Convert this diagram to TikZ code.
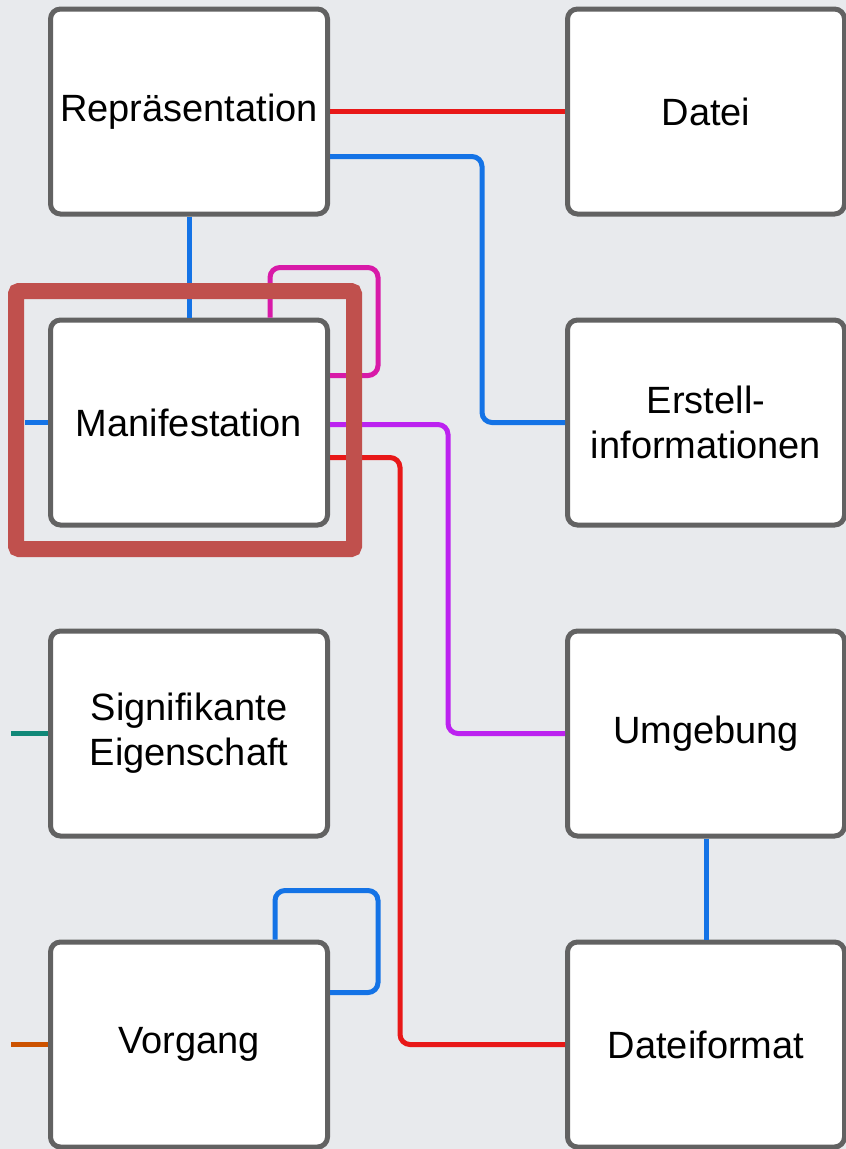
\documentclass[tikz,border=0pt]{standalone}
\usepackage{fontspec}
\setmainfont{Liberation Sans}
\usetikzlibrary{calc}
\definecolor{bggray}{RGB}{232,234,237}
\definecolor{boxgray}{RGB}{98,98,98}
\definecolor{linkred}{RGB}{232,24,24}
\definecolor{linkblue}{RGB}{20,115,230}
\definecolor{linkmagenta}{RGB}{216,26,168}
\definecolor{linkpurple}{RGB}{188,34,240}
\definecolor{linkteal}{RGB}{16,136,120}
\definecolor{linkorange}{RGB}{204,82,0}
\definecolor{hlred}{RGB}{192,80,77}

\begin{document}
\begin{tikzpicture}[
    x=1pt, y=-1pt,
    entity/.style={rectangle, draw=boxgray, fill=white, line width=5pt, rounded corners=10pt, minimum width=277pt, minimum height=205pt, inner sep=0pt, align=center, font=\fontsize{38}{45}\selectfont},
    link/.style={line width=5pt, rounded corners=10pt}
]

% background and page size
\fill[bggray] (0,0) rectangle (846,1149);
\useasboundingbox (0,0) rectangle (846,1149);

% left column
\node[entity] (rep) at (189,111.5) {Repräsentation};
\node[entity] (man) at (189,422.5) {Manifestation};
\node[entity] (sig) at (189,733.5) {Signifikante\\Eigenschaft};
\node[entity] (vor) at (189,1044.5) {Vorgang};

% right column
\node[entity] (datei) at (706,111.5) {Datei};
\node[entity] (erst) at (706,422.5) {Erstell-\\informationen};
\node[entity] (umg) at (706,733.5) {Umgebung};
\node[entity] (dfmt) at (706,1044.5) {Dateiformat};

% free ends of the stubs
\coordinate (manin) at (25,422.5);
\coordinate (sigin) at (11,733.5);
\coordinate (vorin) at (11,1044.5);

% connectors
\draw[link, linkred] (rep.east) -- (datei.west);
\draw[link, linkblue] ([yshift=-45pt]rep.east) -- ++(152,0) |- (erst.west);
\draw[link, linkblue] (rep.south) -- (man.north);
\draw[link, linkmagenta] ([xshift=81pt]man.north) -- ++(0,-50) -- ++(108,0) |- ([yshift=47pt]man.east);
\draw[link, linkblue] (manin) -- (man.west);
\draw[link, linkpurple] ([yshift=-2pt]man.east) -- ++(118,0) |- (umg.west);
\draw[link, linkred] ([yshift=-35pt]man.east) -- ++(70,0) |- (dfmt.west);
\draw[link, linkteal] (sigin) -- (sig.west);
\draw[link, linkorange] (vorin) -- (vor.west);
\draw[link, linkblue] ([xshift=86pt]vor.north) -- ++(0,-49) -- ++(103,0) |- ([yshift=52pt]vor.east);
\draw[link, linkblue] (umg.south) -- (dfmt.north);

% highlight frame
\draw[hlred, line width=16pt, rounded corners=3pt] (16,291) rectangle (354,549);

\end{tikzpicture}
\end{document}
